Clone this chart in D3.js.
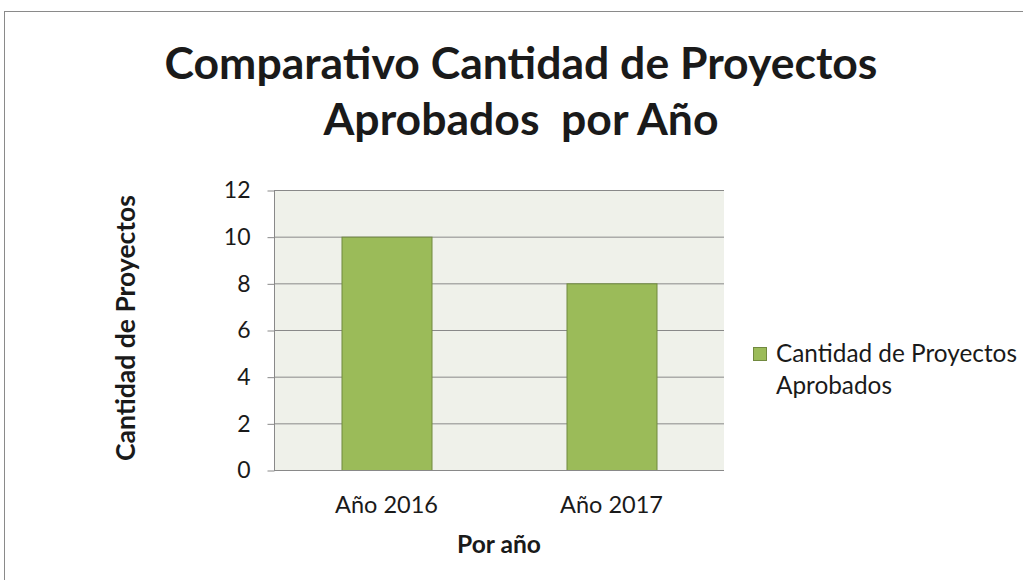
<!DOCTYPE html>
<html>
<head>
<meta charset="utf-8">
<script src="https://cdn.jsdelivr.net/npm/d3@7"></script>
<style>
  body { margin: 0; background: #fff; }
  text { font-family: Lato, "Open Sans", sans-serif; fill: #1a1a1a; white-space: pre; }
</style>
</head>
<body>
<svg id="chart" width="1023" height="580"></svg>
<script>
// data
var categories = ["Año 2016", "Año 2017"];
var values = [10, 8];
var yTicks = [0, 2, 4, 6, 8, 10, 12];
var titleLines = ["Comparativo Cantidad de Proyectos", "Aprobados  por Año"];
var seriesName = ["Cantidad de Proyectos", "Aprobados"];

var svg = d3.select("#chart");

// shrink/grow a text so it spans a given width
function fit(sel, w) {
	var fs = parseFloat(sel.attr("font-size"));
	var len = sel.node().getComputedTextLength();
	sel.attr("font-size", (fs * w / len).toFixed(2));
	return sel;
}

// outer frame
svg.append("rect")
	.attr("x", 4.5).attr("y", 11.5)
	.attr("width", 1040).attr("height", 600)
	.attr("fill", "none")
	.attr("stroke", "#8a8a8a");

var plotL = 274, plotR = 724, plotT = 190, plotB = 470;

var x = d3.scaleBand()
	.domain(categories)
	.range([plotL, plotR])
	.paddingInner(0.6)
	.paddingOuter(0.3);

var y = d3.scaleLinear()
	.domain([0, 12])
	.range([plotB, plotT]);

// plot background
svg.append("rect")
	.attr("x", plotL).attr("y", plotT)
	.attr("width", plotR - plotL).attr("height", plotB - plotT)
	.attr("fill", "#eff1ea");

// gridlines
svg.append("g")
	.selectAll("line")
	.data(yTicks.filter(function(d) { return d > 0; }))
	.enter()
	.append("line")
	.attr("x1", plotL).attr("x2", plotR)
	.attr("y1", function(d) { return y(d) + 0.5; })
	.attr("y2", function(d) { return y(d) + 0.5; })
	.attr("stroke", "#898989");

// bars
svg.append("g")
	.selectAll("rect")
	.data(values)
	.enter()
	.append("rect")
	.attr("x", function(d, i) { return x(categories[i]) + 0.5; })
	.attr("y", function(d) { return y(d) + 0.5; })
	.attr("width", x.bandwidth())
	.attr("height", function(d) { return y(0) - y(d); })
	.attr("fill", "#9bbb59")
	.attr("stroke", "#71893f");

// y axis
var yAxis = svg.append("g")
	.attr("transform", "translate(" + (plotL + 0.5) + ",0.5)")
	.call(d3.axisLeft(y).tickValues(yTicks).tickSize(7).tickPadding(17));
yAxis.selectAll("line").attr("stroke", "#898989");
yAxis.select(".domain").attr("stroke", "#898989").attr("d", "M0," + plotT + "V" + plotB);
yAxis.selectAll("text")
	.attr("font-size", 23)
	.attr("font-family", "Lato, sans-serif")
	.attr("fill", "#1a1a1a");

// x axis
var xAxis = svg.append("g")
	.attr("transform", "translate(0," + (plotB + 0.5) + ")")
	.call(d3.axisBottom(x).tickSize(0).tickPadding(26));
xAxis.select(".domain").attr("stroke", "#898989").attr("d", "M" + plotL + ",0H" + plotR);
xAxis.selectAll("text")
	.attr("font-size", 21)
	.attr("font-family", "Lato, sans-serif")
	.attr("fill", "#1a1a1a");
var x1 = d3.select(xAxis.selectAll("text").nodes()[0]);
fit(x1, 103);
xAxis.selectAll("text").attr("font-size", x1.attr("font-size"));

// title
var title = svg.append("g")
	.selectAll("text")
	.data(titleLines)
	.enter()
	.append("text")
	.attr("x", 521)
	.attr("y", function(d, i) { return 79 + i * 56; })
	.attr("text-anchor", "middle")
	.attr("font-weight", "bold")
	.attr("font-size", 40)
	.text(function(d) { return d; });
var t1 = d3.select(title.nodes()[0]);
fit(t1, 713);
title.attr("font-size", t1.attr("font-size"));

// axis titles
var yTitle = svg.append("text")
	.attr("transform", "translate(135,328) rotate(-90)")
	.attr("text-anchor", "middle")
	.attr("font-weight", "bold")
	.attr("font-size", 22)
	.text("Cantidad de Proyectos");
fit(yTitle, 266);

var xTitle = svg.append("text")
	.attr("x", 499).attr("y", 553)
	.attr("text-anchor", "middle")
	.attr("font-weight", "bold")
	.attr("font-size", 18)
	.text("Por año");
fit(xTitle, 84);

// legend
var legend = svg.append("g");
legend.append("rect")
	.attr("x", 753.5).attr("y", 347.5)
	.attr("width", 13).attr("height", 13)
	.attr("fill", "#9bbb59")
	.attr("stroke", "#71893f");
var lt = legend.selectAll("text")
	.data(seriesName)
	.enter()
	.append("text")
	.attr("x", 776)
	.attr("y", function(d, i) { return 362 + i * 32; })
	.attr("font-size", 20)
	.text(function(d) { return d; });
var l1 = d3.select(lt.nodes()[0]);
fit(l1, 241);
lt.attr("font-size", l1.attr("font-size"));
</script>
</body>
</html>
